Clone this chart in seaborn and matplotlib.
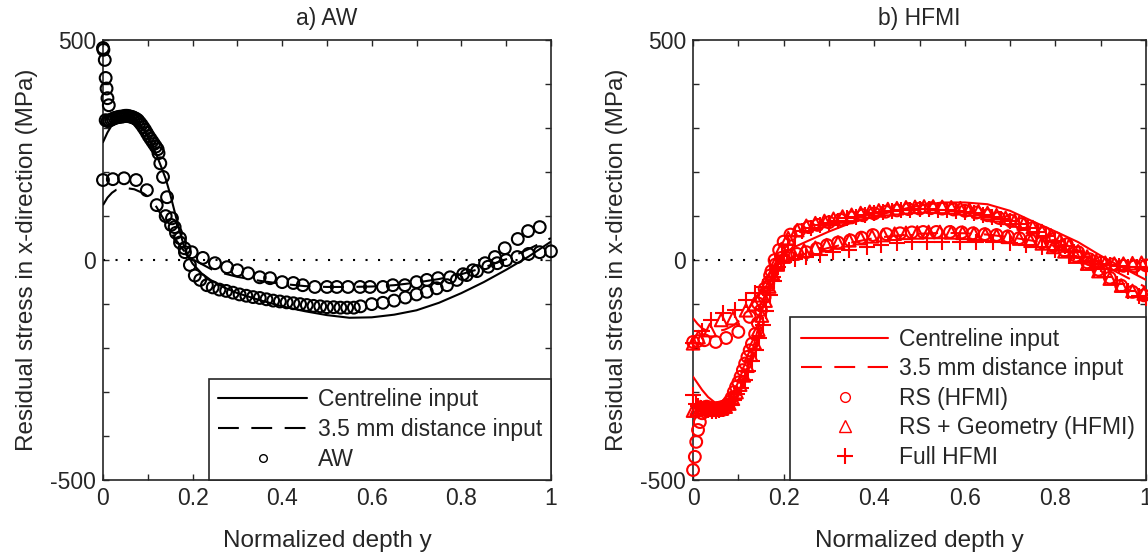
import numpy as np
import pandas as pd
import matplotlib
matplotlib.use("Agg")
import matplotlib.pyplot as plt
from matplotlib.lines import Line2D
from matplotlib.ticker import MultipleLocator
import seaborn as sns

# ---------------- a) AW ----------------
aw_centre_x = [0, 0.01, 0.02, 0.03, 0.04, 0.05, 0.06, 0.07, 0.08, 0.09, 0.10, 0.11, 0.12, 0.13,
               0.14, 0.15, 0.16, 0.17, 0.18, 0.19, 0.20, 0.22, 0.24, 0.27, 0.30, 0.35, 0.40, 0.45,
               0.50, 0.55, 0.60, 0.65, 0.70, 0.75, 0.80, 0.85, 0.90, 0.95, 1.00]
aw_centre_y = [268, 290, 307, 320, 327, 330, 328, 322, 312, 298, 280, 260, 238, 212,
               185, 150, 110, 70, 35, 10, -8, -30, -45, -62, -75, -91, -105, -116,
               -125, -131, -130, -124, -114, -97, -75, -50, -22, 8, 42]

aw_dist_x = [0, 0.01, 0.02, 0.03, 0.05, 0.07, 0.09, 0.105, 0.12, 0.14, 0.16, 0.18, 0.20, 0.25,
             0.30, 0.35, 0.40, 0.45, 0.50, 0.55, 0.60, 0.65, 0.70, 0.75, 0.80, 0.85, 0.90, 0.95, 1.00]
aw_dist_y = [125, 142, 153, 160, 164, 161, 152, 141, 120, 85, 50, 22, 2, -25,
             -38, -47, -54, -59, -61, -61, -60, -57, -51, -43, -32, -17, 2, 25, 50]

# AW measurement points, centreline position
aw_pts_cl_x = [0.000, 0.001, 0.004, 0.006, 0.008, 0.010, 0.013,
               0.006, 0.010, 0.014, 0.018, 0.022, 0.026, 0.030, 0.034, 0.038, 0.042, 0.046,
               0.050, 0.054, 0.058, 0.062, 0.066, 0.070, 0.074, 0.078, 0.082, 0.086, 0.090,
               0.094, 0.098, 0.102, 0.106, 0.110, 0.114, 0.118, 0.122,
               0.124, 0.128, 0.134, 0.143, 0.154, 0.160, 0.172, 0.183, 0.194, 0.205, 0.217,
               0.232, 0.245, 0.260, 0.275, 0.290, 0.305, 0.320, 0.335, 0.350, 0.365, 0.380,
               0.395, 0.410, 0.425, 0.440, 0.455, 0.470, 0.485, 0.500, 0.515, 0.530, 0.545,
               0.560, 0.575, 0.600, 0.625, 0.650, 0.675, 0.700, 0.723, 0.745, 0.768, 0.790,
               0.812, 0.835, 0.860, 0.880, 0.900, 0.925, 0.950, 0.975, 1.000]
aw_pts_cl_y = [482, 478, 455, 414, 390, 368, 352,
               318, 316, 317, 319, 321, 323, 324, 325, 326, 326, 327,
               328, 328, 327, 326, 325, 323, 321, 318, 313, 308, 302,
               296, 289, 282, 276, 270, 264, 258, 252,
               243, 220, 189, 143, 95, 75, 50, 18, -11, -35, -45,
               -57, -62, -67, -70, -74, -78, -81, -84, -86, -89, -92,
               -94, -96, -98, -100, -102, -104, -105, -107, -107, -108, -108,
               -108, -105, -100, -97, -92, -85, -78, -72, -64, -57, -45,
               -34, -25, -15, -7, 0, 7, 14, 18, 20]

# AW measurement points, 3.5 mm from centreline
aw_pts_35_x = [0.000, 0.022, 0.047, 0.074, 0.098, 0.120, 0.140, 0.152, 0.163, 0.172, 0.182,
               0.198, 0.223, 0.250, 0.277, 0.300, 0.324, 0.350, 0.373, 0.400, 0.425, 0.446,
               0.473, 0.500, 0.522, 0.547, 0.574, 0.596, 0.625, 0.647, 0.674, 0.700, 0.723,
               0.748, 0.775, 0.804, 0.826, 0.853, 0.875, 0.897, 0.926, 0.949, 0.975]
aw_pts_35_y = [182, 184, 186, 182, 159, 125, 100, 80, 62, 40, 27,
               18, 5, -7, -16, -23, -30, -39, -41, -50, -52, -57,
               -61, -61, -61, -61, -61, -61, -61, -57, -57, -50, -45,
               -41, -39, -32, -23, -7, 7, 27, 48, 66, 75]

# ---------------- b) HFMI ----------------
hf_centre_x = [0, 0.02, 0.033, 0.05, 0.07, 0.09, 0.10, 0.11, 0.12, 0.13, 0.14, 0.15, 0.16, 0.17,
               0.18, 0.19, 0.20, 0.22, 0.25, 0.30, 0.35, 0.40, 0.45, 0.50, 0.55, 0.60, 0.65,
               0.70, 0.75, 0.80, 0.85, 0.90, 0.95, 1.00]
hf_centre_y = [-265, -295, -311, -325, -330, -318, -300, -275, -245, -210, -170, -125, -85, -45,
               -12, 5, 15, 28, 42, 65, 85, 100, 113, 124, 131, 131, 127,
               112, 88, 65, 41, 10, -18, -45]

hf_dist_x = [0, 0.01, 0.02, 0.03, 0.05, 0.07, 0.09, 0.11, 0.13, 0.15, 0.17, 0.19, 0.22, 0.25,
             0.30, 0.35, 0.40, 0.45, 0.50, 0.55, 0.60, 0.65, 0.70, 0.75, 0.80, 0.85, 0.90, 0.95, 1.00]
hf_dist_y = [-132, -145, -155, -160, -162, -158, -148, -130, -100, -65, -30, -5, 8, 15,
             28, 40, 50, 56, 60, 62, 61, 58, 52, 44, 32, 15, -8, -35, -62]

# RS (HFMI), centreline
rs_cl_x = [0.000, 0.004, 0.007, 0.011, 0.015, 0.020, 0.025, 0.030, 0.035, 0.040, 0.045, 0.050,
           0.055, 0.060, 0.065, 0.070, 0.075, 0.080, 0.085, 0.090, 0.095, 0.100, 0.105, 0.110,
           0.115, 0.120, 0.125, 0.130, 0.137, 0.143, 0.150, 0.158, 0.166, 0.173, 0.180, 0.190,
           0.200, 0.215, 0.235, 0.255, 0.275, 0.300, 0.325, 0.350, 0.375, 0.400, 0.425, 0.450,
           0.475, 0.500, 0.525, 0.550, 0.575, 0.600, 0.625, 0.650, 0.675, 0.700, 0.725, 0.750,
           0.775, 0.800, 0.825, 0.850, 0.875, 0.900, 0.925, 0.950, 0.975, 1.000]
rs_cl_y = [-477, -447, -413, -386, -368, -348, -335, -333, -335, -336, -337, -337,
           -336, -335, -334, -332, -328, -322, -313, -300, -288, -278, -265, -250,
           -235, -220, -205, -190, -168, -143, -114, -84, -52, -25, 0, 23,
           42, 58, 68, 75, 80, 86, 92, 97, 102, 106, 110, 113,
           116, 117, 118, 117, 115, 112, 108, 102, 96, 90, 82, 73,
           62, 50, 36, 18, 2, -6, -10, -13, -14, -12]

# RS (HFMI), 3.5 mm
rs_35_x = [0.000, 0.010, 0.025, 0.050, 0.073, 0.100, 0.125, 0.143, 0.158, 0.170, 0.182, 0.195,
           0.210, 0.230, 0.250, 0.273, 0.296, 0.320, 0.347, 0.372, 0.397, 0.427, 0.457, 0.483,
           0.508, 0.537, 0.567, 0.593, 0.618, 0.644, 0.670, 0.695, 0.720, 0.745, 0.770, 0.795,
           0.820, 0.845, 0.870, 0.895, 0.920, 0.945, 0.970, 0.995]
rs_35_y = [-186, -184, -182, -186, -177, -163, -129, -98, -65, -35, -10, 5,
           10, 14, 18, 26, 34, 40, 45, 51, 57, 59, 61, 63,
           64, 64, 64, 63, 61, 59, 57, 54, 50, 45, 40, 32,
           22, 10, -5, -22, -40, -58, -72, -80]

# RS + Geometry (HFMI), centreline
rsg_cl_x = [0.000, 0.008, 0.016, 0.024, 0.032, 0.040, 0.048, 0.056, 0.064, 0.072, 0.080, 0.088,
            0.096, 0.104, 0.112, 0.120, 0.128, 0.136, 0.144, 0.152, 0.160, 0.168, 0.176, 0.184,
            0.195, 0.21, 0.23, 0.25, 0.27, 0.29, 0.31, 0.33, 0.35, 0.37, 0.39, 0.41, 0.43, 0.45,
            0.47, 0.49, 0.51, 0.53, 0.55, 0.57, 0.59, 0.61, 0.63, 0.65, 0.67, 0.69, 0.71, 0.73,
            0.75, 0.77, 0.79, 0.81, 0.83, 0.85, 0.87, 0.89, 0.91, 0.93, 0.95, 0.97, 0.99]
rsg_cl_y = [-342, -338, -334, -336, -338, -340, -340, -339, -337, -333, -326, -315,
            -300, -283, -262, -240, -215, -188, -158, -126, -92, -60, -30, -4,
            25, 50, 68, 78, 84, 89, 94, 99, 103, 107, 110, 113, 116, 118,
            120, 121, 122, 122, 121, 120, 118, 115, 111, 107, 102, 96, 90, 83,
            75, 66, 56, 45, 33, 20, 8, -2, -6, -8, -8, -7, -6]

# RS + Geometry (HFMI), 3.5 mm
rsg_35_x = [0.000, 0.012, 0.037, 0.062, 0.088, 0.117, 0.135, 0.150, 0.163, 0.175, 0.187, 0.20,
            0.22, 0.245, 0.27, 0.295, 0.32, 0.345, 0.37, 0.395, 0.42, 0.445, 0.47, 0.495,
            0.52, 0.545, 0.57, 0.595, 0.62, 0.645, 0.67, 0.695, 0.72, 0.745, 0.77, 0.795,
            0.82, 0.845, 0.87, 0.895, 0.92, 0.945, 0.97, 0.995]
rsg_35_y = [-189, -175, -159, -136, -132, -114, -100, -80, -55, -30, -10, 8,
            16, 22, 28, 34, 40, 45, 50, 54, 57, 60, 62, 63,
            64, 64, 63, 62, 60, 58, 56, 53, 49, 44, 38, 30,
            20, 8, -8, -25, -42, -58, -70, -76]

# Full HFMI, centreline
full_cl_x = [0.000, 0.006, 0.012, 0.018, 0.026, 0.034, 0.042, 0.050, 0.058, 0.066, 0.074, 0.082,
             0.090, 0.098, 0.106, 0.114, 0.122, 0.130, 0.138, 0.146, 0.154, 0.162, 0.170, 0.178,
             0.186, 0.196, 0.21, 0.225, 0.24, 0.26, 0.28, 0.30, 0.32, 0.34, 0.36, 0.38, 0.40,
             0.42, 0.44, 0.46, 0.48, 0.50, 0.52, 0.54, 0.56, 0.58, 0.60, 0.62, 0.64, 0.66, 0.68,
             0.70, 0.72, 0.74, 0.76, 0.78, 0.80, 0.82, 0.84, 0.86, 0.88, 0.90, 0.92, 0.94, 0.96,
             0.98, 1.00]
full_cl_y = [-307, -326, -332, -335, -338, -340, -342, -342, -341, -339, -335, -328,
             -318, -305, -290, -272, -252, -230, -205, -178, -148, -115, -80, -48,
             -20, 10, 35, 55, 66, 74, 80, 85, 90, 95, 99, 103, 107,
             110, 112, 114, 115, 116, 116, 115, 114, 112, 110, 107, 103, 99, 94,
             88, 81, 73, 64, 54, 43, 31, 18, 6, -3, -9, -12, -14, -15,
             -16, -17]

# Full HFMI, 3.5 mm
full_35_x = [0.000, 0.020, 0.040, 0.066, 0.093, 0.117, 0.137, 0.155, 0.177, 0.188, 0.20, 0.225,
             0.25, 0.28, 0.31, 0.345, 0.384, 0.415, 0.45, 0.483, 0.516, 0.55, 0.59, 0.625,
             0.662, 0.70, 0.735, 0.77, 0.80, 0.83, 0.86, 0.885, 0.91, 0.935, 0.96, 0.985, 1.0]
full_35_y = [-189, -160, -136, -120, -114, -91, -75, -61, -39, -16, -5, 2,
             7, 12, 18, 24, 30, 35, 39, 41, 41, 42, 41, 41,
             41, 39, 35, 30, 22, 10, -5, -20, -38, -55, -70, -82, -86]

x_ticks = [0, 0.2, 0.4, 0.6, 0.8, 1]
x_tick_labels = ["0", "0.2", "0.4", "0.6", "0.8", "1"]
y_ticks = [-500, 0, 500]
y_tick_labels = ["-500", "0", "500"]

sns.set_theme(style="ticks")
plt.rcParams["font.family"] = ["Liberation Sans", "DejaVu Sans"]

fig = plt.figure(figsize=(11.48, 5.57), dpi=100)
ax1 = fig.add_axes([0.0897, 0.138, 0.3902, 0.790])
ax2 = fig.add_axes([0.6037, 0.138, 0.3946, 0.790])

FS = 16.5
DASH = (10, 6)
MS = 72
LW = 1.5


def style_axes(ax, title):
    ax.axhline(0, color="black", linestyle=(0, (1, 5)), linewidth=1.5, zorder=1)
    ax.set_xlim(0, 1)
    ax.set_ylim(-500, 500)
    ax.set_xticks(x_ticks)
    ax.set_xticklabels(x_tick_labels)
    ax.set_yticks(y_ticks)
    ax.set_yticklabels(y_tick_labels)
    ax.xaxis.set_minor_locator(MultipleLocator(0.1))
    ax.yaxis.set_minor_locator(MultipleLocator(100))
    ax.tick_params(which="both", direction="in", top=True, right=True,
                   length=4, width=1, color="#262626", labelsize=FS, pad=5)
    for sp in ax.spines.values():
        sp.set_visible(True)
        sp.set_color("#262626")
        sp.set_linewidth(1.2)
    ax.set_title(title, fontsize=FS, pad=11)
    ax.set_xlabel("Normalized depth y", fontsize=17.5, labelpad=14)
    ax.set_ylabel("Residual stress in x-direction (MPa)", fontsize=17.5, labelpad=9)


# ---- panel a ----
sns.lineplot(x=aw_centre_x, y=aw_centre_y, ax=ax1, color="black", linewidth=LW, zorder=3)
sns.lineplot(x=aw_dist_x, y=aw_dist_y, ax=ax1, color="black", linewidth=LW,
             dashes=False, linestyle=(0, DASH), zorder=3)
for xs, ys in [(aw_pts_cl_x, aw_pts_cl_y), (aw_pts_35_x, aw_pts_35_y)]:
    sns.scatterplot(x=xs, y=ys, ax=ax1, marker="o", s=MS, facecolor="none",
                    edgecolor="black", linewidth=LW, zorder=4, clip_on=False)
style_axes(ax1, "a) AW")

h1 = [Line2D([], [], color="black", lw=LW),
      Line2D([], [], color="black", lw=LW, linestyle=(0, DASH)),
      Line2D([], [], color="black", lw=LW, marker="o", linestyle="none",
             markersize=5.5, markerfacecolor="none")]
leg1 = ax1.legend(h1, ["Centreline input", "3.5 mm distance input", "AW"],
                  loc="lower right", borderaxespad=0, fontsize=FS, handlelength=3.9,
                  handletextpad=0.45, labelspacing=0.3, borderpad=0.4,
                  fancybox=False, framealpha=1, edgecolor="#262626")
leg1.get_frame().set_linewidth(1.2)

# ---- panel b ----
red = "#ff0000"
sns.lineplot(x=hf_centre_x, y=hf_centre_y, ax=ax2, color=red, linewidth=LW, zorder=3)
sns.lineplot(x=hf_dist_x, y=hf_dist_y, ax=ax2, color=red, linewidth=LW,
             dashes=False, linestyle=(0, DASH), zorder=3)
for xs, ys in [(rs_cl_x, rs_cl_y), (rs_35_x, rs_35_y)]:
    sns.scatterplot(x=xs, y=ys, ax=ax2, marker="o", s=MS, facecolor="none",
                    edgecolor=red, linewidth=LW, zorder=4, clip_on=False)
for xs, ys in [(rsg_cl_x, rsg_cl_y), (rsg_35_x, rsg_35_y)]:
    sns.scatterplot(x=xs, y=ys, ax=ax2, marker="^", s=MS + 10, facecolor="none",
                    edgecolor=red, linewidth=LW, zorder=4, clip_on=False)
for xs, ys in [(full_cl_x, full_cl_y), (full_35_x, full_35_y)]:
    sns.scatterplot(x=xs, y=ys, ax=ax2, marker="+", s=120, color=red,
                    linewidth=1.5, zorder=4, clip_on=False)
style_axes(ax2, "b) HFMI")

h2 = [Line2D([], [], color=red, lw=LW),
      Line2D([], [], color=red, lw=LW, linestyle=(0, DASH)),
      Line2D([], [], color=red, lw=LW, marker="o", linestyle="none",
             markersize=7, markerfacecolor="none"),
      Line2D([], [], color=red, lw=LW, marker="^", linestyle="none",
             markersize=8, markerfacecolor="none"),
      Line2D([], [], color=red, lw=LW, marker="+", linestyle="none",
             markersize=12, markeredgewidth=1.5)]
leg2 = ax2.legend(h2, ["Centreline input", "3.5 mm distance input", "RS (HFMI)",
                       "RS + Geometry (HFMI)", "Full HFMI"],
                  loc="lower right", borderaxespad=0, fontsize=FS, handlelength=3.8,
                  handletextpad=0.45, labelspacing=0.28, borderpad=0.5,
                  fancybox=False, framealpha=1, edgecolor="#262626")
leg2.get_frame().set_linewidth(1.2)

fig.savefig("out.png", dpi=100)
